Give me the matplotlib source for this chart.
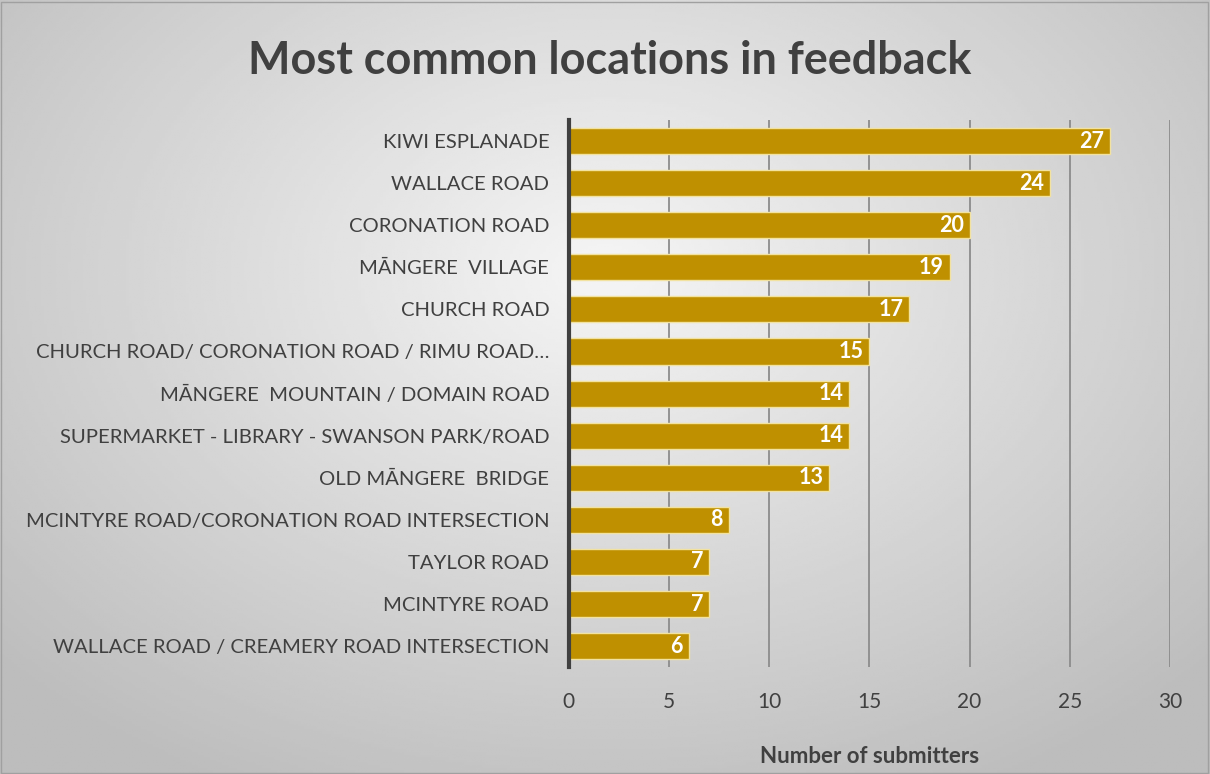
import numpy as np
import matplotlib.pyplot as plt

# Data (top to bottom):
locations = [
    'KIWI ESPLANADE',
    'WALLACE ROAD',
    'CORONATION ROAD',
    'MĀNGERE  VILLAGE',
    'CHURCH ROAD',
    'CHURCH ROAD/ CORONATION ROAD / RIMU ROAD…',
    'MĀNGERE  MOUNTAIN / DOMAIN ROAD',
    'SUPERMARKET - LIBRARY - SWANSON PARK/ROAD',
    'OLD MĀNGERE  BRIDGE',
    'MCINTYRE ROAD/CORONATION ROAD INTERSECTION',
    'TAYLOR ROAD',
    'MCINTYRE ROAD',
    'WALLACE ROAD / CREAMERY ROAD INTERSECTION',
]
submitters = [27, 24, 20, 19, 17, 15, 14, 14, 13, 8, 7, 7, 6]
xticks = [0, 5, 10, 15, 20, 25, 30]

barColour = '#BF9000'
textColour = '#404040'
fontName = ['Lato', 'DejaVu Sans']

plt.rcParams['font.family'] = fontName

figure = plt.figure(figsize=(12.1, 7.74), dpi=100)

# Radial gradient background
bg = figure.add_axes([0, 0, 1, 1], zorder=-10)
yy, xx = np.mgrid[0:1:300j, 0:1:400j]
dist = np.sqrt(((xx - 0.5) * 1.1) ** 2 + ((yy - 0.35) * 1.0) ** 2)
shade = 0.96 - 0.22 * np.clip(dist / 0.75, 0, 1)
bg.imshow(shade, cmap='gray', vmin=0, vmax=1, extent=[0, 1, 0, 1],
          aspect='auto', origin='upper')
bg.set_xlim(0, 1)
bg.set_ylim(0, 1)
bg.axis('off')
figure.patches.append(plt.Rectangle((0.001, 0.001), 0.997, 0.997, transform=figure.transFigure,
                                    fill=False, edgecolor='#A0A0A0', linewidth=1))

ax = figure.add_axes([0.470, 0.138, 0.497, 0.707])
ax.patch.set_alpha(0)

y = np.arange(len(locations))
bars = ax.barh(y, submitters, height=0.62, color=barColour, edgecolor='#F2E2A0',
               linewidth=1, zorder=3)
for yi, v in zip(y, submitters):
    ax.text(v - 0.3, yi, str(v), ha='right', va='center', color='white',
            fontsize=15.5, fontweight='bold', zorder=4)

ax.set_ylim(len(locations) - 0.5, -0.5)
ax.set_xlim(0, 30)
ax.set_xticks(xticks)
ax.set_yticks(y)
ax.set_yticklabels(locations)
ax.tick_params(axis='y', length=0, pad=14, labelsize=14.6, labelcolor=textColour)
ax.tick_params(axis='x', length=0, pad=18, labelsize=15, labelcolor=textColour)
ax.grid(axis='x', color='#8C8C8C', linewidth=1.3, zorder=0)
for side in ['top', 'right', 'bottom']:
    ax.spines[side].set_visible(False)
ax.spines['left'].set_color('#404040')
ax.spines['left'].set_linewidth(3)
ax.spines['left'].set_zorder(5)

ax.set_xlabel('Number of submitters', fontsize=16, fontweight='bold',
              color=textColour, labelpad=24)

figure.text(0.504, 0.921, 'Most common locations in feedback', ha='center', va='center',
            fontsize=32.4, fontweight='bold', color=textColour)

plt.savefig('out.png', dpi=100)
plt.close()
